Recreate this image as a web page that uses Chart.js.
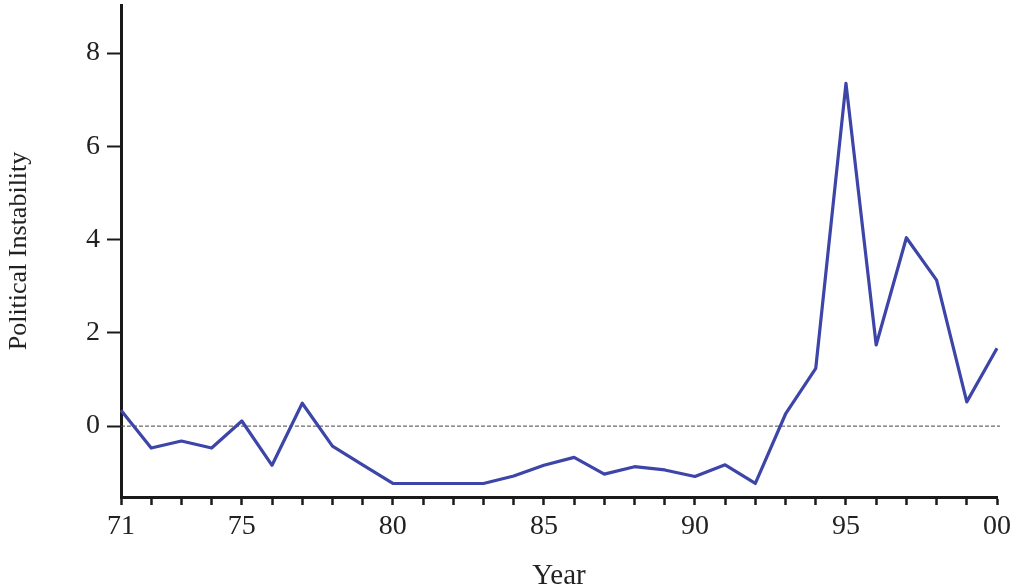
<!DOCTYPE html>
<html>
<head>
<meta charset="utf-8">
<script src="https://cdn.jsdelivr.net/npm/chart.js@4.4.0/dist/chart.umd.min.js"></script>
<style>
  html, body { margin: 0; padding: 0; background: #ffffff; }
  #wrap { width: 1014px; height: 584px; }
</style>
</head>
<body>
<div id="wrap"><canvas id="chart" width="1014" height="584"></canvas></div>
<script>
// DATA
var years = ['71','72','73','74','75','76','77','78','79','80',
             '81','82','83','84','85','86','87','88','89','90',
             '91','92','93','94','95','96','97','98','99','00'];
var instability = [0.34, -0.47, -0.32, -0.47, 0.11, -0.84, 0.49, -0.43, -0.83, -1.23,
                   -1.23, -1.23, -1.23, -1.07, -0.84, -0.67, -1.03, -0.87, -0.94, -1.08,
                   -0.83, -1.23, 0.26, 1.24, 7.35, 1.74, 4.04, 3.13, 0.52, 1.67];
var xTickLabels = ['71','75','80','85','90','95','00'];
var yTickValues = [0, 2, 4, 6, 8];

var serif = "'Liberation Serif', 'Times New Roman', serif";

// dotted zero line
var zeroLine = {
    id: 'zeroLine',
    beforeDatasetsDraw: function(chart) {
        var ctx = chart.ctx;
        var y = chart.scales.y.getPixelForValue(0);
        var area = chart.chartArea;
        ctx.save();
        ctx.strokeStyle = '#444444';
        ctx.lineWidth = 1;
        ctx.setLineDash([4, 2]);
        ctx.beginPath();
        ctx.moveTo(area.left, y);
        ctx.lineTo(area.right + 3, y);
        ctx.stroke();
        ctx.restore();
    }
};

var chart = new Chart(document.getElementById('chart'), {
    type: 'line',
    data: {
        labels: years,
        datasets: [{
            label: 'Political Instability',
            data: instability,
            borderColor: '#3d45a8',
            borderWidth: 3.2,
            borderJoinStyle: 'round',
            pointRadius: 0,
            tension: 0,
            fill: false
        }]
    },
    options: {
        responsive: false,
        animation: false,
        layout: { padding: { top: 5, right: 17, left: 0, bottom: 0 } },
        plugins: {
            legend: { display: false },
            tooltip: { enabled: false }
        },
        scales: {
            x: {
                type: 'category',
                offset: false,
                border: { display: true, color: '#1a1a1a', width: 3 },
                grid: {
                    drawOnChartArea: false,
                    drawTicks: true,
                    tickLength: 8,
                    tickColor: '#1a1a1a',
                    tickWidth: 2.5
                },
                ticks: {
                    autoSkip: false,
                    maxRotation: 0,
                    padding: 5,
                    color: '#222222',
                    font: { family: serif, size: 28 },
                    callback: function(value) {
                        var lab = this.getLabelForValue(value);
                        return xTickLabels.indexOf(lab) >= 0 ? lab : '';
                    }
                },
                title: {
                    display: true,
                    text: 'Year',
                    color: '#222222',
                    font: { family: serif, size: 29 },
                    padding: { top: 0, bottom: -10 }
                },
                afterFit: function(scale) {
                    scale.height = 87;
                    scale.paddingLeft = 0;
                    scale.paddingRight = 0;
                }
            },
            y: {
                min: -1.52,
                max: 9.03,
                border: { display: true, color: '#1a1a1a', width: 3 },
                grid: {
                    drawOnChartArea: false,
                    drawTicks: true,
                    tickLength: 14,
                    tickColor: '#1a1a1a',
                    tickWidth: 2
                },
                afterBuildTicks: function(scale) {
                    scale.ticks = yTickValues.map(function(v) { return { value: v }; });
                },
                ticks: {
                    padding: 7,
                    color: '#222222',
                    font: { family: serif, size: 28 }
                },
                title: {
                    display: true,
                    text: 'Political Instability',
                    color: '#222222',
                    font: { family: serif, size: 26 },
                    padding: { top: 4, bottom: 0 }
                },
                afterFit: function(scale) {
                    scale.width = 121;
                    scale.paddingTop = 0;
                    scale.paddingBottom = 0;
                }
            }
        }
    },
    plugins: [zeroLine]
});
</script>
</body>
</html>
